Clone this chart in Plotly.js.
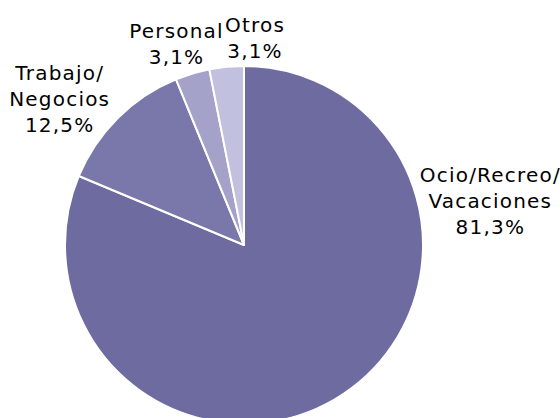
<!DOCTYPE html>
<html>
<head>
<meta charset="utf-8">
<script src="https://cdn.plot.ly/plotly-3.0.1.min.js"></script>
<style>
html,body{margin:0;padding:0;overflow:hidden;background:#fff;}
#chart{width:560px;height:440px;}
#chart .annotation-text{letter-spacing:1.2px;}
</style>
</head>
<body>
<div id="chart"></div>
<script>
const categories = ["Ocio/Recreo/<br>Vacaciones", "Trabajo/<br>Negocios", "Personal", "Otros"];
const values = [81.3, 12.5, 3.1, 3.1];
const valueLabels = ["81,3%", "12,5%", "3,1%", "3,1%"];
const colors = ["#6e6ba1", "#7a78aa", "#a4a2c9", "#c1c0de"];

const W = 560, H = 440;
// label block centres in pixels
const labelPos = [[490, 201], [59, 99], [176, 44], [255, 38]];

const annotations = categories.map((c, i) => ({
  text: c + "<br>" + valueLabels[i],
  xref: "paper", yref: "paper",
  x: labelPos[i][0] / W, y: 1 - labelPos[i][1] / H,
  xanchor: "center", yanchor: "middle", align: "center",
  showarrow: false,
  font: {family: "DejaVu Sans, Verdana, sans-serif", size: 20, color: "#000"}
}));

const data = [{
  type: "pie",
  labels: categories,
  values: values,
  sort: false,
  direction: "clockwise",
  rotation: 0,
  textinfo: "none",
  hoverinfo: "none",
  marker: {colors: colors, line: {color: "#ffffff", width: 2}},
  domain: {x: [65 / W, 423 / W], y: [1 - 424 / H, 1 - 66 / H]}
}];

const layout = {
  width: W, height: H,
  margin: {l: 0, r: 0, t: 0, b: 0},
  showlegend: false,
  paper_bgcolor: "#ffffff",
  annotations: annotations
};

Plotly.newPlot("chart", data, layout, {staticPlot: true});
</script>
</body>
</html>
